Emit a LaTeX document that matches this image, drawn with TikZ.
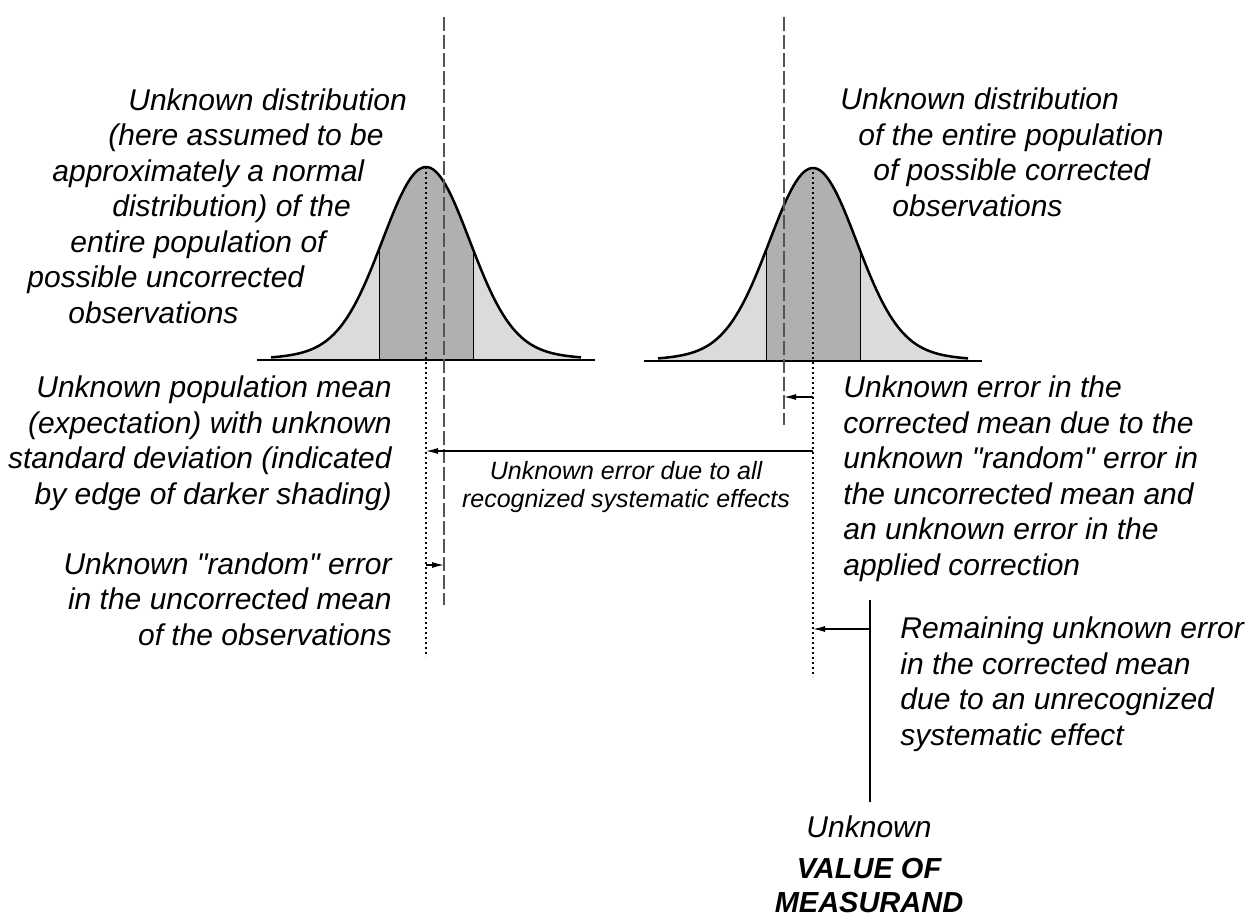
\documentclass[tikz,border=0pt]{standalone}
\usepackage{fontspec}
\setmainfont{Liberation Sans}[Ligatures=TeXOff]
\usetikzlibrary{arrows.meta}
\definecolor{LightClr}{rgb}{0.86,0.86,0.86}
\definecolor{DarkClr}{rgb}{0.69,0.69,0.69}
\definecolor{DashClr}{rgb}{0.33,0.33,0.33}
\tikzset{
  declare function={bell(\t)=0.92*exp(-0.5*((\t)/43)^2)+0.08*exp(-0.5*((\t)/80)^2);},
  txt/.style={font=\itshape\fontsize{15}{17.75}\selectfont,inner sep=0pt},
  meanline/.style={line width=0.75pt,dash pattern=on 0.75pt off 1.75pt},
  corrline/.style={line width=0.75pt,DashClr,dash pattern=on 7pt off 2pt},
  errarrow/.style={line width=0.6pt,-{Latex[length=6pt,width=3pt]}}
}

\begin{document}
\begin{tikzpicture}[x=0.5pt,y=-0.5pt]
\useasboundingbox (0,0) rectangle (1251,920);

% the two bell curves, uncorrected (left) and corrected (right)
\foreach \m/\b in {426/360,813/361}{
  \fill[LightClr] (\m-155,\b) -- plot[domain=\m-155:\m+155,samples=120] (\x,{\b-193*bell(\x-\m)}) -- (\m+155,\b) -- cycle;
  \begin{scope}
    \clip (\m-47,0) rectangle (\m+47,\b);
    \fill[DarkClr] (\m-155,\b) -- plot[domain=\m-155:\m+155,samples=120] (\x,{\b-193*bell(\x-\m)}) -- (\m+155,\b) -- cycle;
  \end{scope}
  \draw[line width=0.5pt] (\m-47,\b) -- (\m-47,{\b-193*bell(-47)});
  \draw[line width=0.5pt] (\m+47,\b) -- (\m+47,{\b-193*bell(47)});
  \draw[line width=1.25pt] plot[domain=\m-155:\m+155,samples=120] (\x,{\b-193*bell(\x-\m)});
  \draw[line width=1.25pt] (\m-169,\b) -- (\m+169,\b);
}

\coordinate (MeanU) at (426,167);
\coordinate (MeanC) at (813,167);
\coordinate (CorrU) at (444,17);
\coordinate (CorrC) at (784,17);
\coordinate (True) at (870,600);

\draw[meanline] (MeanU) -- (MeanU |- 0,657);
\draw[meanline] (MeanC) -- (MeanC |- 0,677);
\draw[corrline] (CorrU) -- (CorrU |- 0,605);
\draw[corrline] (CorrC) -- (CorrC |- 0,425);
\draw[line width=1.2pt] (True) -- (True |- 0,802);

\draw[errarrow] (MeanC |- 0,397) -- (CorrC |- 0,397);
\draw[errarrow] (MeanC |- 0,451) -- (MeanU |- 0,451);
\draw[errarrow] (MeanU |- 0,565) -- (CorrU |- 0,565);
\draw[errarrow] (True |- 0,629) -- (MeanC |- 0,629);

% text blocks, placed by the baseline of their last line
\node[txt,anchor=base west,align=left] (distU) at (27,323) {\hspace*{50.5pt}Unknown distribution\\\hspace*{40.5pt}(here assumed to be\\\hspace*{12.5pt}approximately a normal\\\hspace*{42.5pt}distribution) of the\\\hspace*{21.5pt}entire population of\\possible uncorrected\\\hspace*{20.5pt}observations};
\node[txt,anchor=base east,align=right] (meanU) at (392,504) {Unknown population mean\\(expectation) with unknown\\standard deviation (indicated\\by edge of darker shading)};
\node[txt,anchor=base east,align=right] (randU) at (392,645) {Unknown "random" error\\in the uncorrected mean\\of the observations};
\node[txt,anchor=base west,align=left] (distC) at (840,216) {Unknown distribution\\\hspace*{9pt}of the entire population\\\hspace*{16.5pt}of possible corrected\\\hspace*{26pt}observations};
\node[txt,anchor=base west,align=left] (errC) at (843,575) {Unknown error in the\\corrected mean due to the\\unknown "random" error in\\the uncorrected mean and\\an unknown error in the\\applied correction};
\node[txt,anchor=base west,align=left] (remC) at (900,745) {Remaining unknown error\\in the corrected mean\\due to an unrecognized\\systematic effect};
\node[txt,anchor=base,align=center,font=\itshape\fontsize{12.5}{14}\selectfont] (sysU) at (626,507) {Unknown error due to all\\recognized systematic effects};
\node[txt,anchor=base] (unk) at (869,837) {Unknown};
\node[txt,anchor=base,align=center,font=\bfseries\itshape\fontsize{14.5}{17}\selectfont] (val) at (869,912) {VALUE OF\\MEASURAND};

\end{tikzpicture}
\end{document}
